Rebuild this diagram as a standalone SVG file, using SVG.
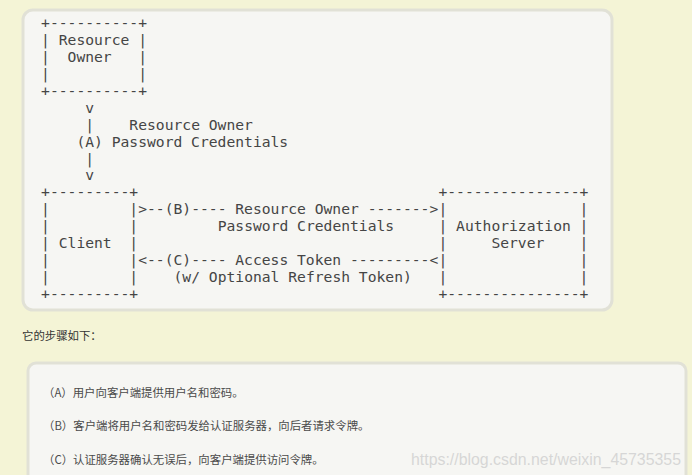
<svg xmlns="http://www.w3.org/2000/svg" width="692" height="475" viewBox="0 0 692 475">
<style>
.m{font-family:"DejaVu Sans Mono",monospace;font-size:14.67px;fill:#454545;white-space:pre}
.cn{font-family:"Noto Sans CJK SC",sans-serif;font-size:11.4px;fill:#4a4a4a}
.blk{fill:#f6f6f3;stroke:#e1e1d6;stroke-width:3}
</style>
<rect x="0" y="0" width="692" height="475" fill="#f4f4d6"/>
<rect class="blk" x="23" y="10" width="589" height="300" rx="10"/>
<g id="resource-owner">
<text class="m" xml:space="preserve" x="41.1" y="28.3">+----------+</text>
<text class="m" xml:space="preserve" x="41.1" y="45.2">| Resource |</text>
<text class="m" xml:space="preserve" x="41.1" y="62.1">|  Owner   |</text>
<text class="m" xml:space="preserve" x="41.1" y="79.0">|          |</text>
<text class="m" xml:space="preserve" x="41.1" y="95.9">+----------+</text>
</g>
<g id="client">
<text class="m" xml:space="preserve" x="41.1" y="197.3">+---------+</text>
<text class="m" xml:space="preserve" x="41.1" y="214.2">|         |</text>
<text class="m" xml:space="preserve" x="41.1" y="231.1">|         |</text>
<text class="m" xml:space="preserve" x="41.1" y="248.0">| Client  |</text>
<text class="m" xml:space="preserve" x="41.1" y="264.9">|         |</text>
<text class="m" xml:space="preserve" x="41.1" y="281.8">|         |</text>
<text class="m" xml:space="preserve" x="41.1" y="298.7">+---------+</text>
</g>
<g id="authorization-server">
<text class="m" xml:space="preserve" x="438.45" y="197.3">+---------------+</text>
<text class="m" xml:space="preserve" x="438.45" y="214.2">|               |</text>
<text class="m" xml:space="preserve" x="438.45" y="231.1">| Authorization |</text>
<text class="m" xml:space="preserve" x="438.45" y="248.0">|     Server    |</text>
<text class="m" xml:space="preserve" x="438.45" y="264.9">|               |</text>
<text class="m" xml:space="preserve" x="438.45" y="281.8">|               |</text>
<text class="m" xml:space="preserve" x="438.45" y="298.7">+---------------+</text>
</g>
<g id="connectors">
<text class="m" xml:space="preserve" x="85.25" y="112.8">v</text>
<text class="m" xml:space="preserve" x="85.25" y="129.7">|    Resource Owner</text>
<text class="m" xml:space="preserve" x="76.42" y="146.6">(A) Password Credentials</text>
<text class="m" xml:space="preserve" x="85.25" y="163.5">|</text>
<text class="m" xml:space="preserve" x="85.25" y="180.4">v</text>
<text class="m" xml:space="preserve" x="138.23" y="214.2">&gt;--(B)---- Resource Owner -------&gt;</text>
<text class="m" xml:space="preserve" x="217.7" y="231.1">Password Credentials</text>
<text class="m" xml:space="preserve" x="138.23" y="264.9">&lt;--(C)---- Access Token ---------&lt;</text>
<text class="m" xml:space="preserve" x="173.55" y="281.8">(w/ Optional Refresh Token)</text>
</g>
<text class="cn" x="22" y="340" style="fill:#333">它的步骤如下：</text>
<rect class="blk" x="28" y="363" width="658" height="130" rx="8"/>
<text class="cn" x="43" y="397">（A）用户向客户端提供用户名和密码。</text>
<text class="cn" x="43" y="430">（B）客户端将用户名和密码发给认证服务器，向后者请求令牌。</text>
<text class="cn" x="43" y="464">（C）认证服务器确认无误后，向客户端提供访问令牌。</text>
<text x="411" y="465" textLength="270" lengthAdjust="spacingAndGlyphs" style="font-family:'Liberation Sans',sans-serif;font-size:16px;fill:#d6d6d6">https://blog.csdn.net/weixin_45735355</text>
</svg>
